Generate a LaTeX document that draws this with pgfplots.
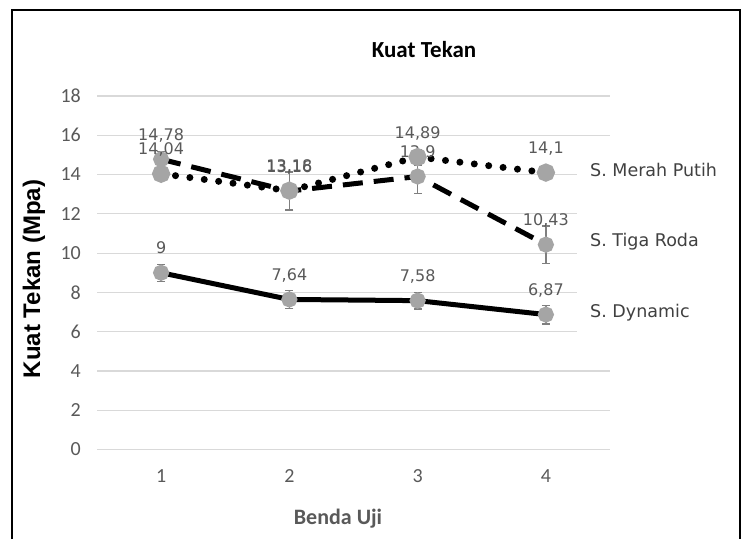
\documentclass[border=0pt]{standalone}
\usepackage{pgfplots}
\pgfplotsset{compat=1.18}
\usepackage{fontspec}
\setmainfont{Carlito}
\newfontfamily\dejavu{DejaVu Sans}
\newfontfamily\libsans{Liberation Sans}

\definecolor{gridgray}{HTML}{D9D9D9}
\definecolor{tickgray}{HTML}{595959}
\definecolor{markgray}{HTML}{A5A5A5}
\definecolor{errgray}{HTML}{7F7F7F}
\definecolor{txtgray}{HTML}{404040}

% x  y  err
\pgfplotstableread{
x y e
1 9.00 0.43
2 7.64 0.45
3 7.58 0.43
4 6.87 0.48
}\dynamic
\pgfplotstableread{
x y e
1 14.04 0.35
2 13.18 0.30
3 14.89 0.40
4 14.10 0.30
}\merahputih
\pgfplotstableread{
x y e
1 14.78 0.40
2 13.16 0.97
3 13.90 0.85
4 10.43 0.95
}\tigaroda

\begin{document}
\begin{tikzpicture}
\useasboundingbox (0,0) rectangle (744pt,539pt);

\begin{axis}[
    at={(97pt,89.5pt)}, anchor=south west,
    scale only axis, width=513pt, height=353.5pt,
    xmin=0.5, xmax=4.5, ymin=0, ymax=18,
    xtick={1,2,3,4}, ytick={0,2,...,18},
    axis line style={draw=none}, tick style={draw=none},
    ymajorgrids, grid style={gridgray, line width=1.2pt},
    /pgf/number format/use comma,
    /pgf/number format/assume math mode=true,
    tick label style={font=\fontsize{20}{20}\selectfont, text=tickgray},
    yticklabel style={inner sep=0pt, anchor=east, xshift=-16pt},
    xticklabel style={inner sep=0pt, anchor=north, yshift=-20pt},
    clip=false,
    error bars/y dir=both, error bars/y explicit,
    error bars/error bar style={errgray, line width=1.3pt, solid},
    error bars/error mark options={rotate=90, mark size=4pt, errgray, line width=1.3pt, solid},
    nodes near coords,
    every node near coord/.append style={font=\dejavu\fontsize{16}{16}\selectfont,
        text=tickgray, anchor=base, inner sep=0pt, yshift=19pt},
    mark options={solid, fill=markgray, draw=markgray},
]
\addplot[black, line width=5pt, mark=*, mark size=5.5pt]
    table[x=x, y=y, y error=e] {\dynamic};
\addplot[black, line width=5pt, line cap=butt, dash pattern=on 20pt off 11pt, mark=*, mark size=5.5pt]
    table[x=x, y=y, y error=e] {\tigaroda};
\addplot[black, line width=7pt, line cap=round, dash pattern=on 0pt off 14.5pt, mark=*, mark size=5.5pt]
    table[x=x, y=y, y error=e] {\merahputih};
\end{axis}

% white label area on the right (covers gridlines behind series names)
\fill[white] (577pt,199pt) rectangle (612pt,389pt);
\node[anchor=west, inner sep=0pt, font=\dejavu\fontsize{17.5}{17.5}\selectfont, text=txtgray] at (590pt,369pt) {S. Merah Putih};
\node[anchor=west, inner sep=0pt, font=\dejavu\fontsize{17.5}{17.5}\selectfont, text=txtgray] at (590pt,297pt) {S. Tiga Roda};
\node[anchor=west, inner sep=0pt, font=\dejavu\fontsize{17.5}{17.5}\selectfont, text=txtgray] at (590pt,226pt) {S. Dynamic};

\node[font=\bfseries\fontsize{23}{23}\selectfont] at (424pt,489pt) {Kuat Tekan};
\node[rotate=90, font=\libsans\bfseries\fontsize{24}{24}\selectfont] at (34pt,260pt) {Kuat Tekan (Mpa)};
\node[font=\bfseries\fontsize{22}{22}\selectfont, text=tickgray] at (338pt,20pt) {Benda Uji};

% frame
\draw[line width=2.5pt, black] (12pt,0pt) -- (12pt,529pt) -- (740pt,529pt) -- (740pt,0pt);
\end{tikzpicture}
\end{document}
